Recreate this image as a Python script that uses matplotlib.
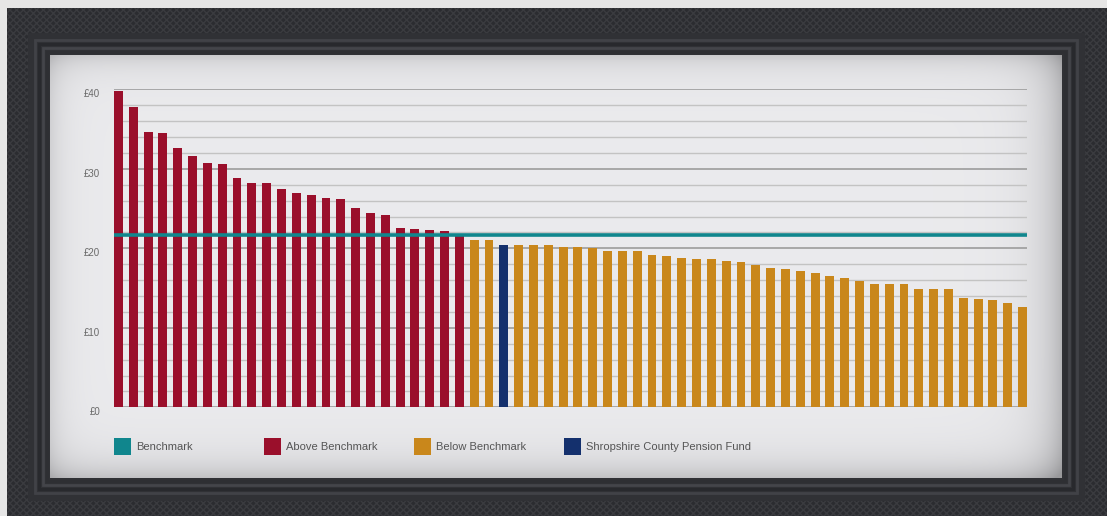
import matplotlib
matplotlib.use("Agg")
import matplotlib.pyplot as plt
import matplotlib.transforms as mtransforms
from matplotlib.patches import Rectangle
import numpy as np

# Cost per member, sorted high to low; one entry per fund
values = [39.8, 37.8, 34.6, 34.5, 32.6, 31.6, 30.7, 30.6, 28.8, 28.2,
          28.2, 27.5, 27.0, 26.7, 26.3, 26.2, 25.1, 24.4, 24.2, 22.6,
          22.4, 22.3, 22.2, 21.7,
          21.05, 21.05, 20.4, 20.4, 20.4, 20.4, 20.2, 20.2, 20.0, 19.7,
          19.7, 19.7, 19.2, 19.0, 18.8, 18.7, 18.7, 18.4, 18.3,
          17.9, 17.5, 17.4, 17.1, 16.9, 16.5, 16.3, 15.9, 15.5, 15.5,
          15.5, 14.9, 14.9, 14.9, 13.75, 13.6, 13.5, 13.1, 12.6]
fund_index = 26          # Shropshire County Pension Fund
n_above = 24             # funds at or above the benchmark
benchmark = 21.7

y_ticks = [0, 10, 20, 30, 40]
y_tick_labels = ["£0", "£10", "£20", "£30", "£40"]

legend_labels = ["Benchmark", "Above Benchmark", "Below Benchmark",
                 "Shropshire County Pension Fund"]

TEAL = "#10868d"
RED = "#9a0f2b"
ORANGE = "#c9871b"
NAVY = "#14306d"
legend_colors = [TEAL, RED, ORANGE, NAVY]

W, H = 1107, 516
fig = plt.figure(figsize=(W / 100, H / 100), dpi=100)
plt.rcParams["font.family"] = ["Liberation Sans", "DejaVu Sans"]

# ---- frame and paper, drawn in pixel coordinates ----
bg = fig.add_axes([0, 0, 1, 1], zorder=0)
bg.set_xlim(0, W)
bg.set_ylim(H, 0)
bg.axis("off")
bg.add_patch(Rectangle((0, 0), W, H, color="#e6e6e6", lw=0))

# carved outer band
bg.add_patch(Rectangle((7, 8), W - 7, H - 8, facecolor="#2b2c30", lw=0))
bg.add_patch(Rectangle((7, 8), W - 7, H - 8, facecolor="none",
                       edgecolor="#3a3b3f", hatch="xxxxx", lw=0))
# grooved inner moulding
for step, col in [(21, "#303135"), (15, "#414247"), (11, "#28292d"),
                  (7, "#44454a"), (3, "#2e2f33")]:
    bg.add_patch(Rectangle((50 - step, 55 - step),
                           1012 + 2 * step, 423 + 2 * step,
                           facecolor=col if step == 21 else "none",
                           edgecolor=col, lw=2.0))

# paper with soft shading toward the frame
px0, py0, px1, py1 = 50, 55, 1062, 478
xx = np.arange(px1 - px0)[None, :]
yy = np.arange(py1 - py0)[:, None]
d_left = xx
d_right = (px1 - px0 - 1) - xx
d_top = yy
d_bot = (py1 - py0 - 1) - yy
shade = (0.10 * np.exp(-d_left / 14.0) + 0.20 * np.exp(-d_right / 22.0)
         + 0.12 * np.exp(-d_top / 14.0) + 0.16 * np.exp(-d_bot / 18.0))
level = np.clip(0.92 - shade, 0.6, 1.0)
rgb = np.dstack([level, level, level + 0.01])
bg.imshow(np.clip(rgb, 0, 1), extent=(px0, px1, py1, py0), aspect="auto",
          interpolation="bilinear", zorder=2)

# legend row
for i, (lab, col) in enumerate(zip(legend_labels, legend_colors)):
    x0 = 114 + i * 150
    bg.add_patch(Rectangle((x0, 438), 17, 17, facecolor=col, lw=0, zorder=3))
    bg.text(x0 + 22, 447, lab, fontsize=8, color="#555555",
            va="center", ha="left", zorder=3)

# ---- bar chart ----
ax = fig.add_axes([114 / W, (H - 407.3) / H, 913 / W, 318 / H], zorder=1)
ax.patch.set_alpha(0)

x = np.arange(len(values))
colors = [RED if i < n_above else ORANGE for i in range(len(values))]
colors[fund_index] = NAVY
ax.bar(x, values, width=0.6, color=colors, zorder=2)
ax.axhline(benchmark, color=TEAL, lw=2.6, zorder=3)

ax.set_xlim(-0.3, len(values) - 0.7)
ax.set_ylim(0, 40)
ax.set_xticks([])
ax.set_yticks(y_ticks)
ax.set_yticklabels(y_tick_labels)
ax.set_yticks(np.arange(0, 41, 2), minor=True)
ax.grid(True, which="minor", axis="y", color="#c3c3c3", lw=1.0, zorder=0)
ax.grid(True, which="major", axis="y", color="#9c9c9c", lw=1.2, zorder=1)
ax.tick_params(axis="y", which="both", length=0, pad=10,
               labelsize=7, labelcolor="#6a6a6a")
offset = mtransforms.ScaledTranslation(0, -0.04, fig.dpi_scale_trans)
for lbl in ax.get_yticklabels():
    lbl.set_transform(lbl.get_transform() + offset)
for s in ax.spines.values():
    s.set_visible(False)

fig.savefig("out.png", dpi=100)
